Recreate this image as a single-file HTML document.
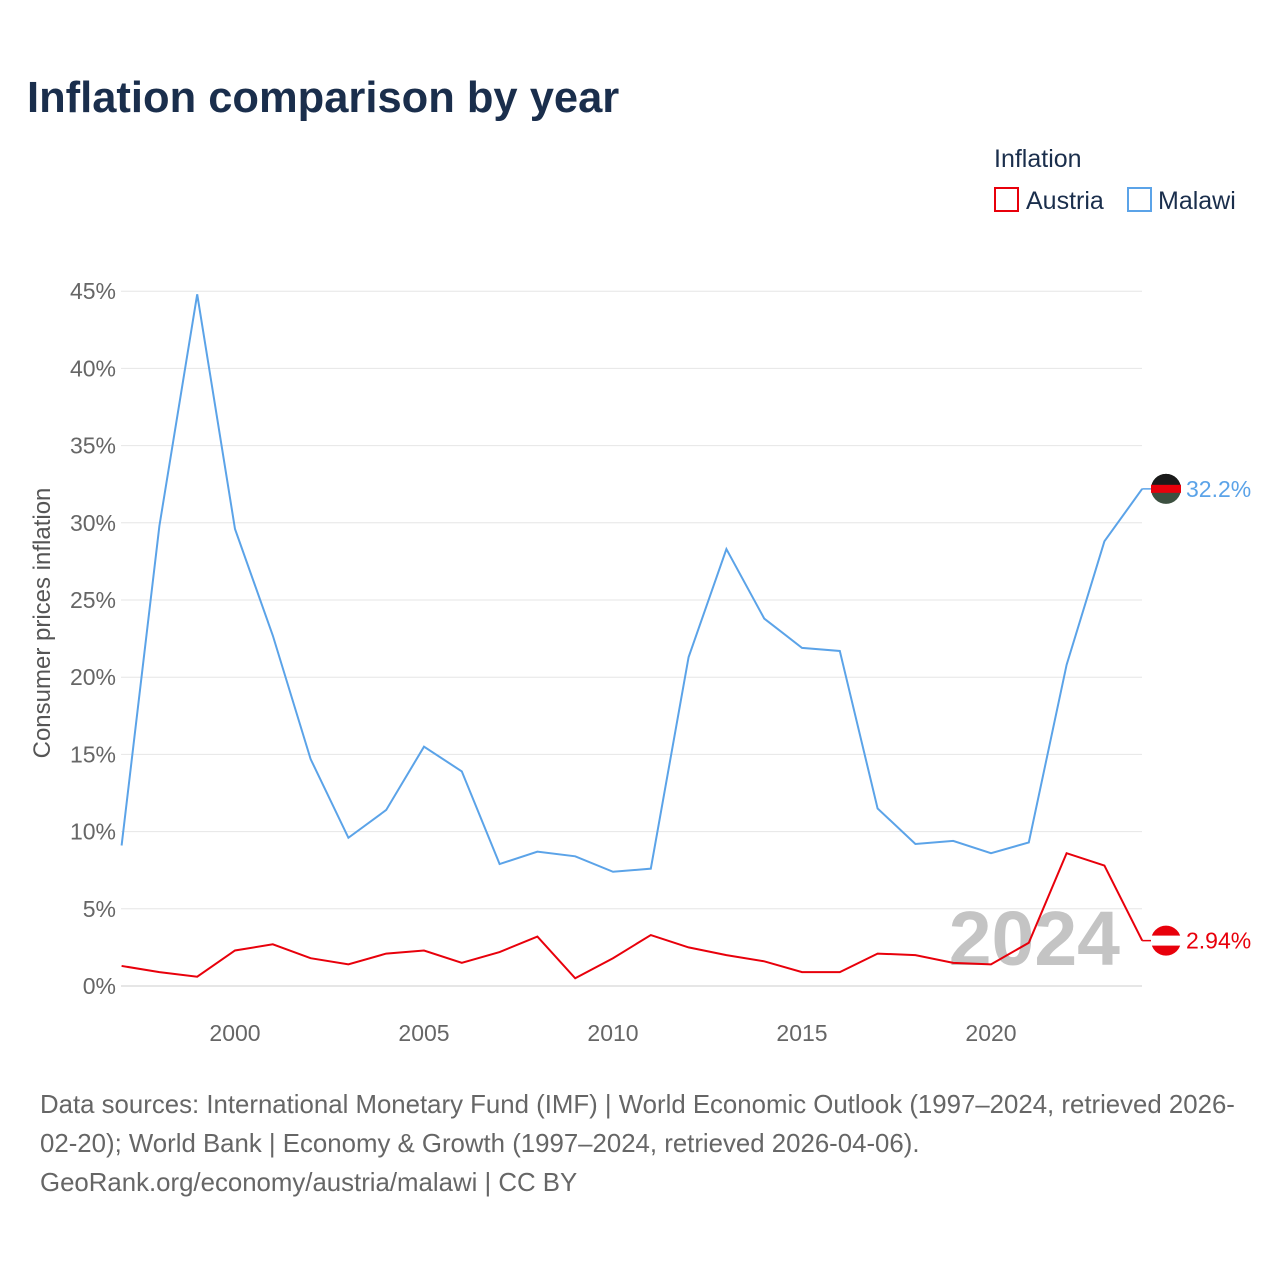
<!DOCTYPE html>
<html><head><meta charset="utf-8"><style>
body{margin:0;width:1280px;height:1280px;background:#fff;font-family:"Liberation Sans",sans-serif;overflow:hidden}
</style></head><body>
<svg id="chart" width="1280" height="1280" font-family="Liberation Sans, sans-serif">
<text x="27" y="112" font-size="43.5" font-weight="bold" fill="#1a2e4c">Inflation comparison by year</text>
<text x="994" y="167" font-size="25" fill="#1a2e4c">Inflation</text>
<g><rect x="995" y="188" width="23" height="23" fill="none" stroke="#e8000b" stroke-width="2"/><text x="1026" y="209" font-size="25" fill="#1a2e4c">Austria</text></g>
<g><rect x="1128" y="188" width="23" height="23" fill="none" stroke="#5ba3e8" stroke-width="2"/><text x="1158" y="209" font-size="25" fill="#1a2e4c">Malawi</text></g>
<g id="grid"></g>
<g id="yticks"></g>
<g id="xticks"></g>
<text transform="translate(50,623) rotate(-90)" text-anchor="middle" font-size="24" fill="#555">Consumer prices inflation</text>
<text x="1120" y="965" text-anchor="end" font-size="77" font-weight="bold" fill="#c4c4c4">2024</text>
<g id="series"></g>
<text x="40" y="1113" font-size="25.8" fill="#666">Data sources: International Monetary Fund (IMF) | World Economic Outlook (1997–2024, retrieved 2026-</text>
<text x="40" y="1152" font-size="25.8" fill="#666">02-20); World Bank | Economy &amp; Growth (1997–2024, retrieved 2026-04-06).</text>
<text x="40" y="1191" font-size="25.8" fill="#666">GeoRank.org/economy/austria/malawi | CC BY</text>
</svg>
<script>
const years=[1997,1998,1999,2000,2001,2002,2003,2004,2005,2006,2007,2008,2009,2010,2011,2012,2013,2014,2015,2016,2017,2018,2019,2020,2021,2022,2023,2024];
const malawi=[9.1,29.8,44.8,29.6,22.7,14.7,9.6,11.4,15.5,13.9,7.9,8.7,8.4,7.4,7.6,21.3,28.3,23.8,21.9,21.7,11.5,9.2,9.4,8.6,9.3,20.8,28.8,32.2];
const austria=[1.3,0.9,0.6,2.3,2.7,1.8,1.4,2.1,2.3,1.5,2.2,3.2,0.5,1.8,3.3,2.5,2.0,1.6,0.9,0.9,2.1,2.0,1.5,1.4,2.8,8.6,7.8,2.94];
const yTicks=[0,5,10,15,20,25,30,35,40,45];
const xTicks=[2000,2005,2010,2015,2020];
const NS="http://www.w3.org/2000/svg";
const X=y=>121.6+(y-1997)*37.8, Y=v=>986-v*15.44;
function mk(t,a,p){const e=document.createElementNS(NS,t);for(const k in a)e.setAttribute(k,a[k]);p.appendChild(e);return e;}
const grid=document.getElementById('grid'),yt=document.getElementById('yticks'),xt=document.getElementById('xticks'),ser=document.getElementById('series');
yTicks.forEach(v=>{
 const l=mk('line',{x1:121,x2:1142,y1:Y(v),y2:Y(v),stroke:v===0?'#ccc':'#e6e6e6','stroke-width':1},grid);
 
 
 const t=mk('text',{x:116,y:Y(v)+8,'text-anchor':'end','font-size':23,fill:'#666'},yt);
 t.textContent=v+'%';
 
 
});
xTicks.forEach(v=>{
 const t=mk('text',{x:X(v),y:1041,'text-anchor':'middle','font-size':23,fill:'#666'},xt);
 t.textContent=v;
 
 
});
function series(vals,color,name,label,flag){
 const p=mk('polyline',{points:vals.map((v,i)=>X(years[i])+','+Y(v)).join(' '),fill:'none',stroke:color,'stroke-width':2},ser);
 
 
 const lv=vals[vals.length-1],ly=Y(lv);
 mk('line',{x1:X(2024),x2:1160,y1:ly,y2:ly,stroke:color,'stroke-width':1.5},ser);
 const g=mk('g',{},ser);
 
 
 flag(g,1166,ly);
 const t=mk('text',{x:1186,y:ly+8,'font-size':23,fill:color},ser);
 t.textContent=label;
 
 
}
series(malawi,'#5ba3e8','malawi','32.2%',(g,x,y)=>{
 mk('circle',{cx:x,cy:y,r:15,fill:'#3c5040'},g);
 mk('path',{d:`M${x-15},${y} A15,15 0 0 1 ${x+15},${y}Z`,fill:'#1a1a1a'},g);
 mk('rect',{x:x-15,y:y-4,width:30,height:8,fill:'#e8000b'},g);
});
series(austria,'#e8000b','austria','2.94%',(g,x,y)=>{
 mk('circle',{cx:x,cy:y,r:15,fill:'#e8000b'},g);
 mk('rect',{x:x-15,y:y-5,width:30,height:10,fill:'#fff'},g);
});
</script>
</body></html>
